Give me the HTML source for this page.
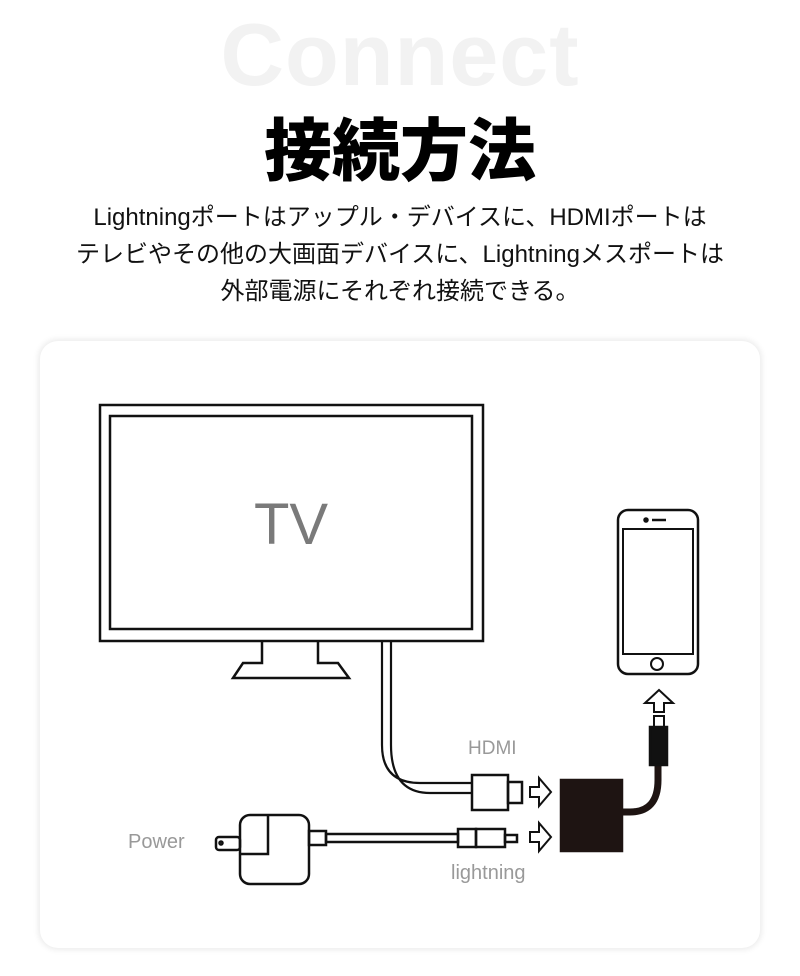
<!DOCTYPE html>
<html><head><meta charset="utf-8"><style>
body{margin:0;width:800px;height:976px;background:#fff;position:relative;overflow:hidden;font-family:"Liberation Sans","Noto Sans CJK JP",sans-serif}
.c{position:absolute;left:0;width:800px;text-align:center}
#card{position:absolute;left:40px;top:341px;width:720px;height:607px;border-radius:18px;background:#fff;box-shadow:0 0 6px 2px rgba(0,0,0,0.08)}
</style></head><body>
<div class="c" style="top:5px;font-size:88px;font-weight:bold;color:#f2f2f2;letter-spacing:1px;line-height:100px">Connect</div>
<div class="c" style="top:106px;font-size:68px;font-weight:900;color:#000;line-height:80px;font-family:'Noto Sans CJK JP',sans-serif">接続方法</div>
<div class="c" style="top:199px;font-size:24px;line-height:37px;color:#111">Lightningポートはアップル・デバイスに、HDMIポートは<br>テレビやその他の大画面デバイスに、Lightningメスポートは<br>外部電源にそれぞれ接続できる。</div>
<div id="card"></div>
<svg style="position:absolute;left:0;top:0" width="800" height="976" fill="none" stroke="#111" stroke-width="2.5">
<rect x="100" y="405" width="383" height="236"/>
<rect x="110" y="416" width="362" height="213"/>
<path d="M262 641V663H243L233 678H349L338 663H318V641"/>
<path d="M382 641V745Q382 783 420 783H472M391 641V745Q391 793 430 793H472" stroke-width="2.2"/>
<rect x="472" y="775" width="36" height="35"/>
<rect x="508" y="782" width="14" height="21"/>
<path d="M530 787H539V778L551 792L539 806V797H530Z" stroke-width="2"/>
<path d="M530 832H539V823L551 837L539 851V842H530Z" stroke-width="2"/>
<rect x="240" y="815" width="69" height="69" rx="10"/>
<path d="M268 815V854H240"/>
<rect x="216" y="837" width="24" height="13" rx="3"/>
<circle cx="221" cy="843" r="1.5"/>
<rect x="309" y="831" width="17" height="14"/>
<rect x="326" y="834" width="132" height="8"/>
<rect x="458" y="829" width="18" height="18"/>
<rect x="476" y="829" width="29" height="18"/>
<rect x="505" y="835" width="12" height="7"/>
<rect x="561" y="780" width="61" height="71" fill="#1e1412" stroke="#1e1412"/>
<path d="M620 812H630Q658 812 658 780V765" stroke="#1e1412" stroke-width="7"/>
<rect x="650" y="727" width="17" height="38" fill="#111"/>
<rect x="654" y="716" width="10" height="11" stroke-width="2"/>
<path d="M654 712V703H645L659 690L673 703H664V712Z" stroke-width="2"/>
<rect x="618" y="510" width="80" height="164" rx="10"/>
<rect x="623" y="529" width="70" height="125" stroke-width="2"/>
<circle cx="657" cy="664" r="6" stroke-width="2"/>
<path d="M652 520H666" stroke-width="2.5"/>
<circle cx="646" cy="520" r="1.5" fill="#111"/>
</svg>
<div style="position:absolute;left:254px;top:490px;font-size:58px;color:#7a7a7a;line-height:70px">TV</div>
<div style="position:absolute;left:468px;top:738px;font-size:19px;color:#999">HDMI</div>
<div style="position:absolute;left:451px;top:862px;font-size:20px;color:#999">lightning</div>
<div style="position:absolute;left:128px;top:831px;font-size:20px;color:#999">Power</div>
</body></html>
